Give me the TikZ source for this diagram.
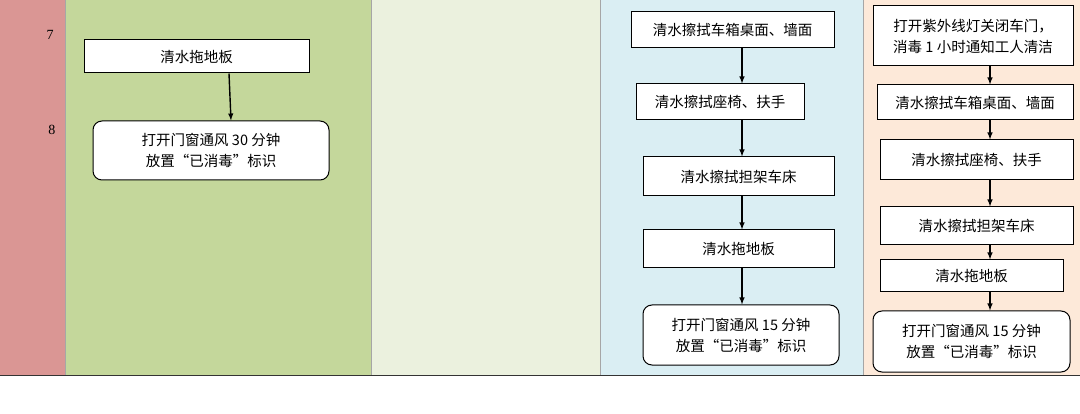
\documentclass[tikz,border=0pt]{standalone}
\usepackage{fontspec}
\setmainfont{Liberation Serif}
\newfontfamily\cjk{Noto Sans CJK SC}
\definecolor{cred}{HTML}{DA9694}
\definecolor{cgreen}{HTML}{C4D79B}
\definecolor{clgreen}{HTML}{EBF1DE}
\definecolor{cblue}{HTML}{DAEEF3}
\definecolor{cpeach}{HTML}{FDE9D9}
\begin{document}
\begin{tikzpicture}[x=1pt,y=-1pt,
  box/.style={draw=black,line width=1pt,fill=white,font=\cjk\fontsize{14.5}{21}\selectfont,align=center,inner sep=0pt},
  rbox/.style={box,rounded corners=9pt},
  arr/.style={-latex,line width=1.4pt}]
\useasboundingbox (0,0) rectangle (1080,414);
\fill[white] (0,0) rectangle (1080,414);
\fill[cred] (0,0) rectangle (65,375);
\fill[cgreen] (65,0) rectangle (371,375);
\fill[clgreen] (371,0) rectangle (600,375);
\fill[cblue] (600,0) rectangle (863,375);
\fill[cpeach] (863,0) rectangle (1080,375);
\foreach \x in {65,371,600,863} \draw[gray!70] (\x,0) -- (\x,375);
\draw[black!80,line width=1pt] (0,375) -- (1080,375);
\node (n7) at (50,35) {\fontsize{14}{16}\selectfont 7};
\node (n8) at (52,130) {\fontsize{14}{16}\selectfont 8};
% green
\node[box,minimum width=225pt,minimum height=33pt] (g1) at (196.5,56.5) {清水拖地板};
\node[rbox,minimum width=236pt,minimum height=59pt] (g2) at (211,150.5) {打开门窗通风 30 分钟\\放置“已消毒”标识};
\draw[arr] (g1.south -| 229,0) -- (g2.north -| 231,0);
% blue
\node[box,minimum width=203pt,minimum height=36pt] (b1) at (732.5,30) {清水擦拭车箱桌面、墙面};
\node[box,minimum width=168pt,minimum height=36pt] (b2) at (720,102) {清水擦拭座椅、扶手};
\node[box,minimum width=191pt,minimum height=39pt] (b3) at (738.5,176.5) {清水擦拭担架车床};
\node[box,minimum width=191pt,minimum height=38pt] (b4) at (738.5,249) {清水拖地板};
\node[rbox,minimum width=196pt,minimum height=60pt] (b5) at (741,335) {打开门窗通风 15 分钟\\放置“已消毒”标识};
\foreach \a/\b in {b1/b2,b2/b3,b3/b4,b4/b5} \draw[arr] (\a.south -| 742,0) -- (\b.north -| 742,0);
% peach
\node[box,minimum width=200pt,minimum height=60pt] (p1) at (973,36) {打开紫外线灯关闭车门，\\消毒 1 小时通知工人清洁};
\node[box,minimum width=196pt,minimum height=35pt] (p2) at (975,102.5) {清水擦拭车箱桌面、墙面};
\node[box,minimum width=193pt,minimum height=40pt] (p3) at (976.5,160) {清水擦拭座椅、扶手};
\node[box,minimum width=193pt,minimum height=38pt] (p4) at (976.5,226) {清水擦拭担架车床};
\node[box,minimum width=183pt,minimum height=32pt] (p5) at (971.5,276) {清水拖地板};
\node[rbox,minimum width=197pt,minimum height=61pt] (p6) at (971.5,341.5) {打开门窗通风 15 分钟\\放置“已消毒”标识};
\foreach \a/\b in {p1/p2,p2/p3,p3/p4,p4/p5,p5/p6} \draw[arr] (\a.south -| 990,0) -- (\b.north -| 990,0);
\end{tikzpicture}
\end{document}
